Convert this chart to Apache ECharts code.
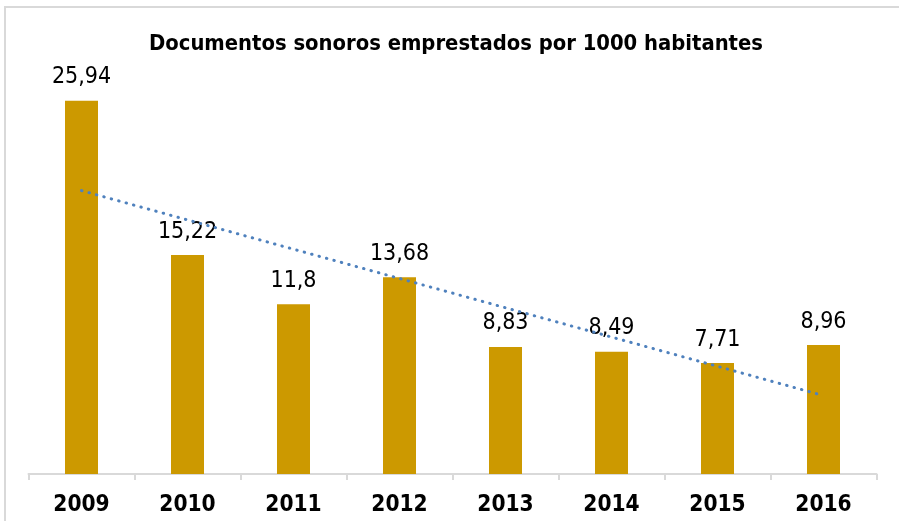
<!DOCTYPE html>
<html>
<head>
<meta charset="utf-8">
<script src="https://cdn.jsdelivr.net/npm/echarts@6/dist/echarts.min.js"></script>
<style>
  html, body { margin: 0; padding: 0; background: #fff; }
  #chart { width: 899px; height: 521px; }
</style>
</head>
<body>
<div id="chart"></div>
<script>
// years and values
var years = ['2009', '2010', '2011', '2012', '2013', '2014', '2015', '2016'];
var loans = [25.94, 15.22, 11.8, 13.68, 8.83, 8.49, 7.71, 8.96];
// dotted trend line: end points
var trend = [19.7, null, null, null, null, null, null, 5.45];

var chartDom = document.getElementById('chart');
var myChart = echarts.init(chartDom);

// labels use comma as decimal mark
function fmt(v) {
  return String(v).replace('.', ',');
}

var option = {
  animation: false,
  title: {
    text: 'Documentos sonoros emprestados por 1000 habitantes',
    left: 144,
    top: 28,
    textStyle: {
      fontFamily: 'DejaVu Sans Condensed',
      fontWeight: 'bold',
      fontSize: 21.8,
      color: '#000'
    }
  },
  graphic: [{
    type: 'rect',
    shape: { x: 5, y: 7, width: 920, height: 540 },
    style: { fill: null, stroke: '#d9d9d9', lineWidth: 2 },
    silent: true
  }],
  grid: { left: 28.5, right: 22.5, top: 100, bottom: 47 },
  xAxis: {
    type: 'category',
    data: years,
    axisLine: { lineStyle: { color: '#d9d9d9', width: 2 } },
    axisTick: { show: true, length: 6, lineStyle: { color: '#d9d9d9', width: 2 } },
    axisLabel: {
      margin: 20,
      fontFamily: 'DejaVu Sans Condensed',
      fontWeight: 'bold',
      fontSize: 22.5,
      color: '#000'
    }
  },
  yAxis: {
    type: 'value',
    min: 0,
    max: 26,
    show: false,
    splitLine: { show: false }
  },
  series: [
    {
      name: 'Documentos sonoros',
      type: 'bar',
      data: loans,
      barWidth: 33,
      itemStyle: { color: '#cc9900' },
      label: {
        show: true,
        position: 'top',
        distance: 12,
        fontFamily: 'DejaVu Sans Condensed',
        fontSize: 23,
        color: '#000',
        formatter: function (p) { return fmt(p.value); }
      }
    },
    {
      name: 'Tendência',
      type: 'line',
      data: trend,
      connectNulls: true,
      showSymbol: false,
      symbol: 'none',
      z: 5,
      lineStyle: {
        color: '#4f81bd',
        width: 3,
        type: [0.5, 7.2],
        cap: 'round'
      }
    }
  ]
};

option && myChart.setOption(option);
</script>
</body>
</html>
